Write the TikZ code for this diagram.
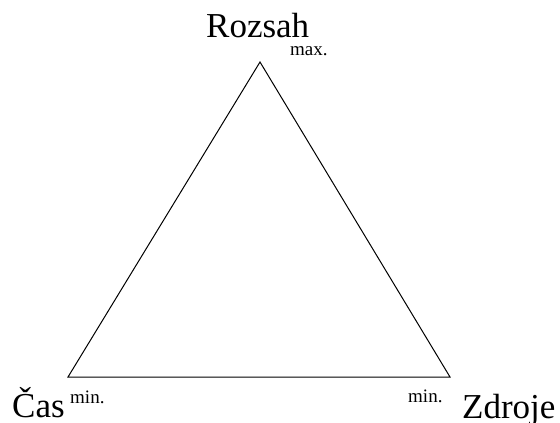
\documentclass[tikz,border=0pt]{standalone}
\usepackage{fontspec}
\setmainfont{Liberation Serif}
\begin{document}
\begin{tikzpicture}[x=1pt, y=-1pt,
  bigtext/.style={font=\fontsize{35}{40}\selectfont, inner sep=0pt, anchor=base west},
  smalltext/.style={font=\fontsize{19}{22}\selectfont, inner sep=0pt, anchor=base west}]
  \useasboundingbox (0,0) rectangle (560,423);

  \coordinate (R) at (260,62);
  \coordinate (C) at (68,377);
  \coordinate (Z) at (450,377);

  \draw[line width=1pt] (R) -- (C) -- (Z) -- cycle;

  \node[bigtext] (rozsah) at (206,37) {Rozsah};
  \node[smalltext] (rmax) at (290,55) {max.};

  \node[bigtext] (cas) at (12,417) {Čas};
  \node[smalltext] (cmin) at (70,403) {min.};

  \node[bigtext] (zdroje) at (462,418) {Zdroje};
  \node[smalltext] (zmin) at (408,402) {min.};
\end{tikzpicture}
\end{document}
